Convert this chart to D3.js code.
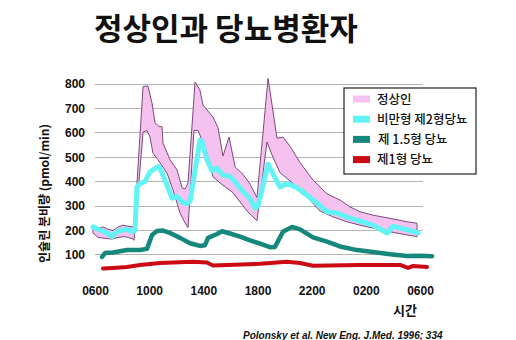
<!DOCTYPE html>
<html><head><meta charset="utf-8">
<script src="https://cdn.jsdelivr.net/npm/d3@7"></script>
<style>
html,body{margin:0;padding:0;background:#fff;}
svg{display:block;}
</style></head>
<body>
<svg id="c" width="516" height="340"></svg>
<script>
// time = hours since 06:00
const title = "정상인과 당뇨병환자";
const yLabel = "인슐린 분비량 (pmol/min)";
const xLabel = "시간";
const citation = "Polonsky et al. New Eng. J.Med. 1996; 334";
const xTickValues = [0, 4, 8, 12, 16, 20, 24];
const xTickLabels = ["0600", "1000", "1400", "1800", "2200", "0200", "0600"];
const yTickValues = [100, 200, 300, 400, 500, 600, 700, 800];
const seriesNames = ["정상인", "비만형 제2형당뇨", "제 1.5형 당뇨", "제1형 당뇨"];

const normalUpper = [
  [-0.15,220],[0.22,210],[0.59,215],[0.96,205],[1.33,200],[1.70,215],[2.07,222],[2.44,218],[2.81,215],[2.88,200],
  [3.55,790],[3.91,792],[4.21,722],[4.43,642],[4.73,626],[4.95,625],[5.02,558],[5.54,490],[6.06,448],[6.43,375],[6.65,370],[6.87,395],
  [7.39,808],[7.75,775],[7.98,713],[8.71,665],[9.08,622],[9.45,505],[9.90,583],[10.35,460],[10.93,430],[11.45,390],[11.96,335],
  [12.78,823],[13.44,578],[13.88,583],[14.40,545],[15.14,478],[16.10,407],[17.13,350],[18.09,325],[18.83,297],[19.57,277],
  [20.53,263],[21.79,250],[23.04,236],[23.78,230]
];
const normalLower = [
  [-0.15,190],[0.22,172],[0.74,168],[1.26,165],[1.70,172],[2.22,175],[2.81,166],[2.88,160],
  [3.55,603],[3.84,610],[4.06,583],[4.28,517],[4.65,490],[5.32,435],[5.76,366],[6.28,272],[6.65,231],[6.87,212],
  [7.31,610],[7.61,610],[8.27,517],[8.71,420],[9.23,395],[10.19,355],[11.23,280],[11.96,240],
  [12.70,563],[13.07,510],[13.66,437],[14.62,393],[15.66,337],[16.62,280],[17.58,256],[18.61,236],[19.57,222],
  [20.53,210],[21.79,195],[23.04,182],[23.78,175]
];
const obeseType2 = [
  [-0.15,215],[0.37,202],[0.89,190],[1.26,175],[1.48,190],[1.85,200],[2.36,205],[2.73,195],[2.95,200],
  [3.10,378],[3.32,393],[3.69,400],[4.06,440],[4.43,455],[4.73,462],[5.02,427],[5.39,375],[5.69,333],[6.06,340],[6.43,316],[6.79,310],[7.02,320],
  [7.75,570],[7.90,565],[8.27,490],[8.64,445],[9.01,455],[9.45,427],[9.97,422],[10.49,390],[10.93,360],[11.45,330],[11.82,292],[12.04,300],
  [12.78,472],[13.07,440],[13.66,378],[14.18,393],[14.92,375],[15.66,345],[16.40,312],[17.13,277],[17.87,272],[18.61,255],[19.35,243],
  [20.53,222],[21.57,190],[22.01,218],[22.53,210],[23.26,200],[23.86,190]
];
const type15 = [
  [0.52,92],[0.74,108],[1.33,110],[2.36,120],[3.32,120],[3.84,125],[4.21,182],[4.58,198],[5.02,200],[5.54,190],[6.28,170],
  [7.02,148],[7.75,137],[8.12,140],[8.35,170],[9.01,186],[9.38,197],[9.97,188],[10.71,175],[11.45,160],[12.19,146],[12.92,132],
  [13.29,133],[13.88,195],[14.55,215],[15.14,205],[16.10,172],[17.13,155],[18.09,135],[19.35,120],[20.53,112],[21.79,103],
  [23.04,96],[24.00,97],[24.89,95]
];
const type1 = [
  [0.59,45],[1.33,47],[2.36,51],[3.32,59],[4.80,67],[7.24,72],[8.27,69],[8.71,57],[9.75,59],[12.19,64],[14.18,72],[15.14,67],
  [16.10,56],[19.57,59],[22.53,59],[23.12,47],[23.49,55],[24.52,51]
];

const colors = {pinkFill:"#f5c2f0", pinkLine:"#7b4a7b", cyan:"#62f3f5", teal:"#15877b", red:"#cc0a14", grid:"#b4b4b4"};

const svg = d3.select("#c");
const x = d3.scaleLinear().domain([0, 24]).range([95, 420]);
const y = d3.scaleLinear().domain([0, 800]).range([279.4, 84]);
const sans = "'Liberation Sans', Arial, sans-serif";
const kr = "'Noto Sans CJK KR', 'Liberation Sans', sans-serif";

// title
svg.append("text").attr("x", 94).attr("y", 40).attr("font-family", kr).attr("font-weight", 700)
  .attr("font-size", 31).attr("fill", "#111").text(title);

// grid
svg.append("g").selectAll("line").data(yTickValues).join("line")
  .attr("x1", 95).attr("x2", 423).attr("y1", d => y(d)).attr("y2", d => y(d))
  .attr("stroke", colors.grid).attr("stroke-width", 1).attr("shape-rendering", "crispEdges");

// y axis labels via d3 axis
const yAxis = svg.append("g").attr("transform", "translate(93,0)")
  .call(d3.axisLeft(y).tickValues(yTickValues).tickSize(0).tickPadding(8));
yAxis.select(".domain").remove();
yAxis.selectAll("text").attr("font-family", sans).attr("font-weight", 700).attr("font-size", 12).attr("fill", "#111");

// x axis labels
const xAxis = svg.append("g").attr("transform", "translate(0,283)")
  .call(d3.axisBottom(x).tickValues(xTickValues).tickFormat((d, i) => xTickLabels[i]).tickSize(0).tickPadding(3));
xAxis.select(".domain").remove();
xAxis.selectAll("text").attr("font-family", sans).attr("font-weight", 700).attr("font-size", 12).attr("fill", "#111");

// band
const bandPts = normalUpper.concat(normalLower.slice().reverse());
svg.append("path").attr("d", d3.line().x(d => x(d[0])).y(d => y(d[1]))(bandPts) + "Z")
  .attr("fill", colors.pinkFill).attr("stroke", colors.pinkLine).attr("stroke-width", 1).attr("stroke-linejoin", "round");

const line = d3.line().x(d => x(d[0])).y(d => y(d[1]));
svg.append("path").attr("d", line(type1)).attr("fill", "none").attr("stroke", colors.red).attr("stroke-width", 4).attr("stroke-linejoin", "round").attr("stroke-linecap", "round");
svg.append("path").attr("d", line(type15)).attr("fill", "none").attr("stroke", colors.teal).attr("stroke-width", 4.5).attr("stroke-linejoin", "round").attr("stroke-linecap", "round");
svg.append("path").attr("d", line(obeseType2)).attr("fill", "none").attr("stroke", colors.cyan).attr("stroke-width", 5).attr("stroke-linejoin", "round").attr("stroke-linecap", "round");

// axis titles
svg.append("text").attr("transform", "translate(49,193.5) rotate(-90)").attr("text-anchor", "middle")
  .attr("font-family", kr).attr("font-weight", 700).attr("font-size", 12).attr("fill", "#111").text(yLabel);
svg.append("text").attr("x", 405).attr("y", 315).attr("text-anchor", "middle")
  .attr("font-family", kr).attr("font-weight", 700).attr("font-size", 13).attr("fill", "#111").text(xLabel);
svg.append("text").attr("x", 243).attr("y", 338.5)
  .attr("font-family", sans).attr("font-weight", 700).attr("font-style", "italic").attr("font-size", 10).attr("fill", "#111").text(citation);

// legend
const lg = svg.append("g");
lg.append("rect").attr("x", 344).attr("y", 88).attr("width", 132).attr("height", 86)
  .attr("fill", "#fff").attr("stroke", "#222").attr("stroke-width", 1.2);
const legendColors = [colors.pinkFill, colors.cyan, colors.teal, colors.red];
const rows = lg.selectAll("g.row").data(seriesNames).join("g").attr("class", "row")
  .attr("transform", (d, i) => `translate(0,${99 + i * 20.2})`);
rows.append("rect").attr("x", 353).attr("y", -3.5).attr("width", 17).attr("height", 7).attr("fill", (d, i) => legendColors[i]);
rows.append("text").attr("x", (d, i) => i === 2 ? 378 : 377).attr("y", 4.5)
  .attr("font-family", kr).attr("font-weight", 500).attr("font-size", 12.5).attr("fill", "#111").text(d => d);
</script>
</body></html>
